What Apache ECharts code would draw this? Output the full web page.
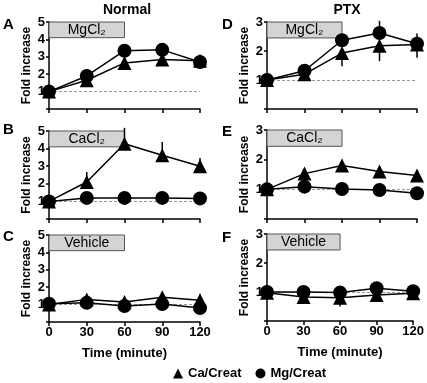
<!DOCTYPE html>
<html><head><meta charset="utf-8">
<script src="https://cdn.jsdelivr.net/npm/echarts@6/dist/echarts.min.js"></script>
<style>html,body{margin:0;padding:0;background:#fff}#c{width:427px;height:383px}</style>
</head><body><div id="c"></div>
<script>
const times = [0, 30, 60, 90, 120];
const panelLetters = ['A','B','C','D','E','F'];
const columnTitles = ['Normal','PTX'];
const boxLabels = ['MgCl₂','CaCl₂','Vehicle','MgCl₂','CaCl₂','Vehicle'];
const seriesNames = ['Ca/Creat','Mg/Creat'];

// Ca/Creat (triangles)
const caA = [1.0, 1.65, 2.65, 2.85, 2.78];
const caB = [1.0, 2.1, 4.28, 3.62, 3.0];
const caC = [1.0, 1.3, 1.15, 1.42, 1.25];
const caD = [1.0, 1.2, 1.93, 2.18, 2.22];
const caE = [1.0, 1.53, 1.8, 1.6, 1.47];
const caF = [0.97, 0.83, 0.8, 0.9, 0.96];
// Mg/Creat (circles)
const mgA = [1.0, 1.9, 3.35, 3.4, 2.7];
const mgB = [1.0, 1.2, 1.2, 1.2, 1.17];
const mgC = [1.05, 1.1, 0.92, 1.03, 0.8];
const mgD = [1.0, 1.32, 2.37, 2.62, 2.25];
const mgE = [1.0, 1.09, 1.01, 0.98, 0.87];
const mgF = [1.0, 1.0, 0.98, 1.13, 1.03];
// error bars (signed: + drawn up, - drawn down)
const caErrA = [0, 0.1, 0.25, 0.2, 0.3];
const caErrB = [0, 0.57, 0.9, 0.76, 0.47];
const caErrC = [0, 0.1, 0.1, 0.2, 0.35];
const caErrD = [0, 0, -0.46, -0.53, -0.45];
const caErrE = [0, 0.08, 0.2, 0.1, 0.1];
const caErrF = [0, -0.15, -0.3, -0.1, 0];
const mgErrA = [0, 0, 0, 0, 0];
const mgErrB = [0, 0, 0, 0, 0];
const mgErrC = [0, 0, 0, 0, 0];
const mgErrD = [0, 0, 0, 0.42, 0.35];
const mgErrE = [0, 0, 0, 0, 0];
const mgErrF = [0, 0, 0, 0, 0];
const yMaxLeft = 5, yMaxRight = 3;
const boxBottomLeft = 4.1, boxBottomRight = 2.45;

const caAll = [caA, caB, caC, caD, caE, caF];
const mgAll = [mgA, mgB, mgC, mgD, mgE, mgF];
const caErrAll = [caErrA, caErrB, caErrC, caErrD, caErrE, caErrF];
const mgErrAll = [mgErrA, mgErrB, mgErrC, mgErrD, mgErrE, mgErrF];

const FONT = 'Liberation Sans';
const grids = [
  {left: 49, top: 22, width: 151, height: 87},
  {left: 49, top: 131, width: 151, height: 88},
  {left: 49, top: 235, width: 151, height: 87},
  {left: 267, top: 22, width: 150, height: 87},
  {left: 267, top: 130, width: 150, height: 89},
  {left: 267, top: 234, width: 150, height: 87}
];

const xAxis = [], yAxis = [], series = [];
grids.forEach((g, i) => {
  const right = i >= 3;
  const bottom = (i % 3) === 2;
  const ymax = right ? yMaxRight : yMaxLeft;
  xAxis.push({
    type: 'value', gridIndex: i, min: 0, max: 120, interval: 30,
    axisLine: {lineStyle: {color: '#000', width: 1.5}},
    axisTick: {show: true, inside: false, length: 4, lineStyle: {color: '#000', width: 1.5}},
    axisLabel: {show: bottom, color: '#000', fontFamily: FONT, fontWeight: 'bold', fontSize: 13, margin: 4},
    splitLine: {show: false},
    name: bottom ? 'Time (minute)' : '', nameLocation: 'middle', nameGap: 25,
    nameTextStyle: {color: '#000', fontFamily: FONT, fontWeight: 'bold', fontSize: 13}
  });
  yAxis.push({
    type: 'value', gridIndex: i, min: 0, max: ymax, interval: 1,
    axisLine: {show: true, lineStyle: {color: '#000', width: 1.5}},
    axisTick: {show: true, length: 3, lineStyle: {color: '#000', width: 1.5}},
    axisLabel: {color: '#000', fontFamily: FONT, fontWeight: 'bold', fontSize: 13, margin: 4,
      formatter: v => v === 0 ? '' : String(v)},
    splitLine: {show: false},
    name: 'Fold increase', nameLocation: 'middle', nameGap: 16, nameRotate: 90,
    nameTextStyle: {color: '#000', fontFamily: FONT, fontWeight: 'bold', fontSize: 12}
  });
  const boxBottom = right ? boxBottomRight : boxBottomLeft;
  series.push({
    name: seriesNames[0], type: 'line', xAxisIndex: i, yAxisIndex: i,
    data: times.map((t, k) => [t, caAll[i][k]]),
    symbol: 'triangle', symbolSize: 14, z: 3,
    lineStyle: {color: '#000', width: 1.5}, itemStyle: {color: '#000'},
    animation: false,
    markLine: {silent: true, symbol: 'none', label: {show: false},
      lineStyle: {color: '#999', type: [3, 2], width: 1}, data: [{yAxis: 1}], z: 1},
    markArea: {silent: true, z: 1,
      itemStyle: {color: '#d4d4d4', borderColor: '#555', borderWidth: 1},
      label: {show: true, position: 'inside', color: '#000', fontFamily: FONT, fontSize: 14},
      data: [[{coord: [0, ymax], name: boxLabels[i]}, {coord: [60, boxBottom]}]]}
  });
  series.push({
    name: seriesNames[1], type: 'line', xAxisIndex: i, yAxisIndex: i,
    data: times.map((t, k) => [t, mgAll[i][k]]),
    symbol: 'circle', symbolSize: 14, z: 4,
    lineStyle: {color: '#000', width: 1.5}, itemStyle: {color: '#000'},
    animation: false
  });
  const errData = [];
  times.forEach((t, k) => {
    if (caErrAll[i][k]) errData.push([t, caAll[i][k], caErrAll[i][k]]);
    if (mgErrAll[i][k]) errData.push([t, mgAll[i][k], mgErrAll[i][k]]);
  });
  series.push({
    type: 'custom', xAxisIndex: i, yAxisIndex: i, z: 2, animation: false,
    data: errData,
    renderItem: (params, api) => {
      const x = api.value(0), y = api.value(1), e = api.value(2);
      const p0 = api.coord([x, y]), p1 = api.coord([x, y + e]);
      return {type: 'line', shape: {x1: p0[0], y1: p0[1], x2: p1[0], y2: p1[1]},
        style: {stroke: '#000', lineWidth: 1.5}};
    }
  });
});

const graphic = [];
const letterPos = [[3, 17], [3, 122], [3, 229], [222, 17], [222, 124], [222, 230]];
panelLetters.forEach((L, i) => graphic.push({type: 'text', left: letterPos[i][0], top: letterPos[i][1],
  style: {text: L, fill: '#000', font: 'bold 15px "Liberation Sans"'}}));

const option = {
  animation: false,
  backgroundColor: '#fff',
  title: [
    {text: columnTitles[0], left: 122, top: -2, textAlign: 'center',
      textStyle: {fontFamily: FONT, fontWeight: 'bold', fontSize: 14, color: '#000'}},
    {text: columnTitles[1], left: 342, top: -2, textAlign: 'center',
      textStyle: {fontFamily: FONT, fontWeight: 'bold', fontSize: 14, color: '#000'}}
  ],
  legend: {
    left: 168, top: 362, itemWidth: 10, itemHeight: 10, itemGap: 14,
    textStyle: {fontFamily: FONT, fontWeight: 'bold', fontSize: 13, color: '#000'},
    data: [{name: seriesNames[0], icon: 'triangle'}, {name: seriesNames[1], icon: 'circle'}],
    selectedMode: false
  },
  grid: grids,
  xAxis, yAxis, series, graphic
};
const chart = echarts.init(document.getElementById('c'), null, {renderer: 'canvas'});
chart.setOption(option);
</script></body></html>
